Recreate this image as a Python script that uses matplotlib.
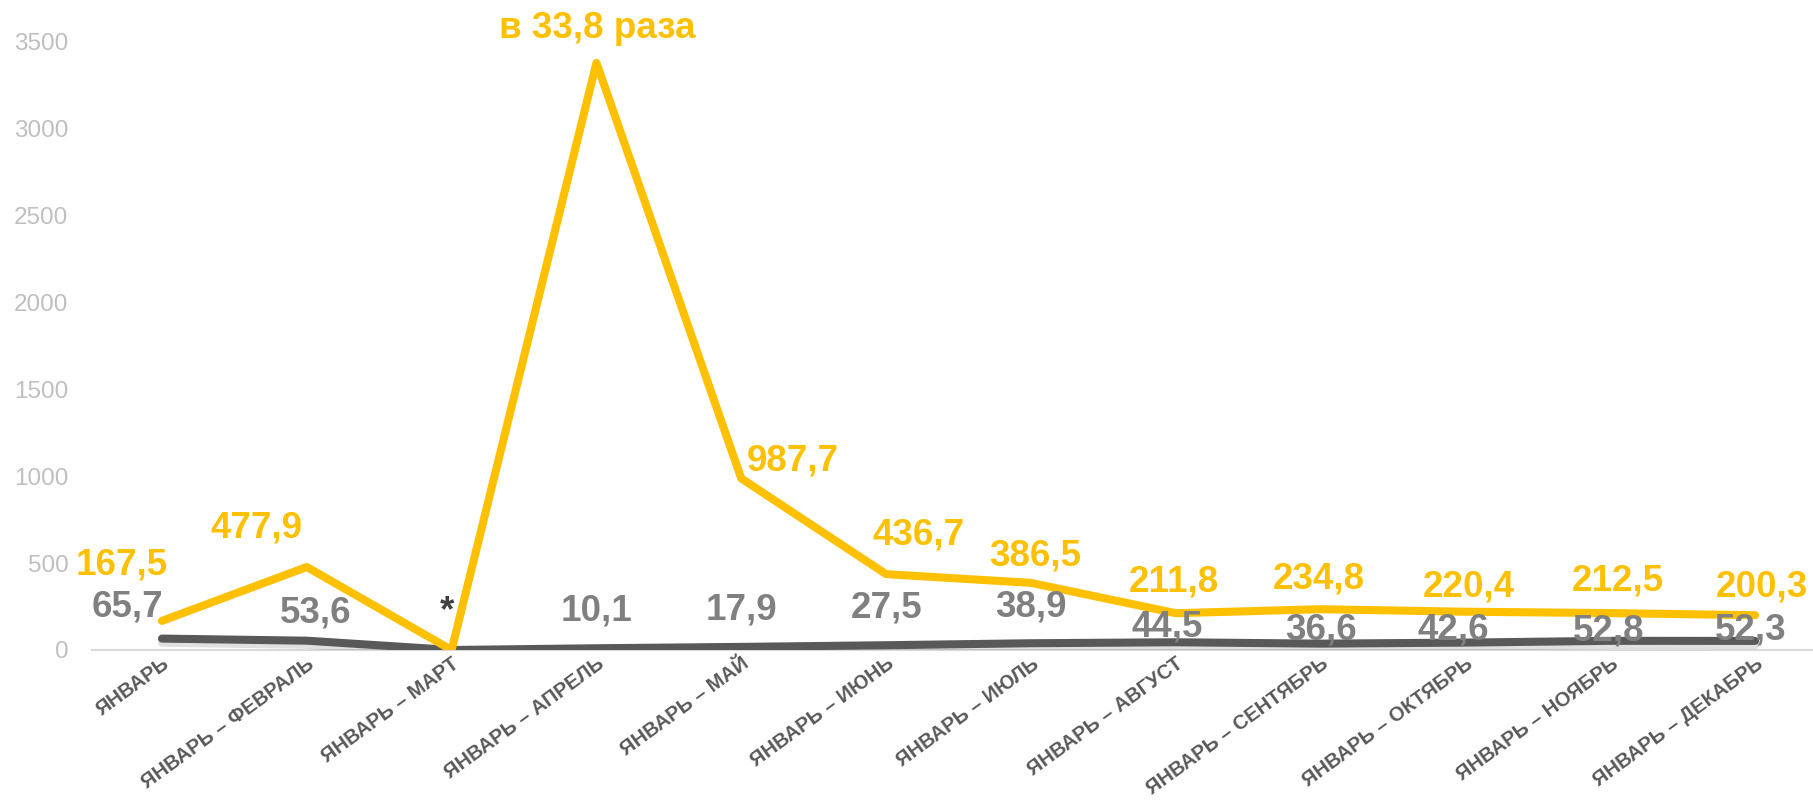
import matplotlib
matplotlib.use("Agg")
import matplotlib.pyplot as plt
import matplotlib.patheffects as pe

plt.rcParams['font.family'] = ['Liberation Sans', 'DejaVu Sans']

# Данные
months = ["ЯНВАРЬ", "ЯНВАРЬ – ФЕВРАЛЬ", "ЯНВАРЬ – МАРТ", "ЯНВАРЬ – АПРЕЛЬ",
          "ЯНВАРЬ – МАЙ", "ЯНВАРЬ – ИЮНЬ", "ЯНВАРЬ – ИЮЛЬ", "ЯНВАРЬ – АВГУСТ",
          "ЯНВАРЬ – СЕНТЯБРЬ", "ЯНВАРЬ – ОКТЯБРЬ", "ЯНВАРЬ – НОЯБРЬ",
          "ЯНВАРЬ – ДЕКАБРЬ"]
yellow = [167.5, 477.9, 0, 3380, 987.7, 436.7, 386.5, 211.8, 234.8, 220.4, 212.5, 200.3]
gray = [65.7, 53.6, 0, 10.1, 17.9, 27.5, 38.9, 44.5, 36.6, 42.6, 52.8, 52.3]
yellow_labels = ["167,5", "477,9", "", "в 33,8 раза", "987,7", "436,7", "386,5",
                 "211,8", "234,8", "220,4", "212,5", "200,3"]
gray_labels = ["65,7", "53,6", "*", "10,1", "17,9", "27,5", "38,9", "44,5",
               "36,6", "42,6", "52,8", "52,3"]

# смещения подписей (пиксели, центр текста относительно точки)
y_off = [(-40, 59), (-50, 42), (0, 0), (1, 38), (51, 21), (32, 43), (4, 30),
         (-2, 35), (-2, 34), (3, 28), (8, 36), (7, 32)]
g_off = [(-35, 35), (9, 31), (-5, 42), (0, 41), (0, 40), (0, 41), (0, 40),
         (-9, 19), (0, 17), (-12, 16), (-2, 13), (-4, 14)]

YEL = "#FFC000"
DGR = "#595959"
LGR = "#808080"

fig = plt.figure(figsize=(18.13, 8.02), dpi=100)
ax = fig.add_axes([92 / 1813, 1 - 650 / 802, 1 - 92 / 1813, (650 - 42) / 802])

x = list(range(len(months)))
ax.plot(x, gray, color=DGR, lw=5.8, solid_capstyle='round', solid_joinstyle='round',
        zorder=3,
        path_effects=[pe.SimpleLineShadow(offset=(0, -3), shadow_color='#000000', alpha=0.12),
                      pe.Normal()])
ax.plot(x, yellow, color=YEL, lw=5.8, solid_capstyle='round', solid_joinstyle='round',
        zorder=4)

for i in x:
    if yellow_labels[i]:
        dx, dy = y_off[i]
        ax.annotate(yellow_labels[i], (i, yellow[i]), xytext=(dx, dy - 13),
                    textcoords='offset pixels', ha='center', va='baseline',
                    fontsize=26.5, fontweight='bold', color=YEL,
                    annotation_clip=False, zorder=6)
    dx, dy = g_off[i]
    col = "#404040" if gray_labels[i] == "*" else LGR
    ax.annotate(gray_labels[i], (i, gray[i]), xytext=(dx, dy - 13),
                textcoords='offset pixels', ha='center', va='baseline',
                fontsize=26.5, fontweight='bold', color=col,
                annotation_clip=False, zorder=5)

ax.set_xlim(-0.483, 11.40)
ax.set_ylim(0, 3500)
ax.set_yticks(range(0, 3501, 500))
ax.tick_params(axis='y', length=0, pad=17, labelsize=17.5, labelcolor='#BFBFBF')
ax.set_xticks(x)
ax.set_xticklabels(months, rotation=36, ha='right', va='top', rotation_mode='anchor',
                   fontsize=14.5, fontweight='bold', color=DGR)
ax.tick_params(axis='x', length=0, pad=3)
for lab in ax.get_xticklabels():
    lab.set_rotation_mode('anchor')

for s in ['top', 'right', 'left']:
    ax.spines[s].set_visible(False)
ax.spines['bottom'].set_color('#D9D9D9')
ax.spines['bottom'].set_linewidth(1.5)
ax.patch.set_alpha(0)

fig.savefig("out.png", dpi=100)
